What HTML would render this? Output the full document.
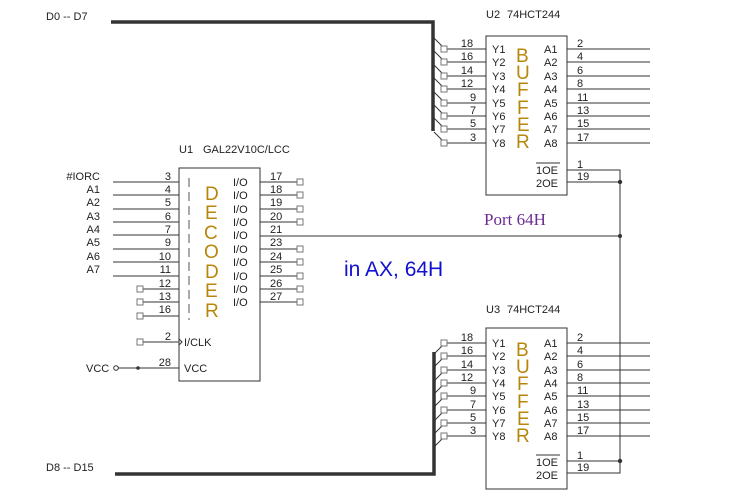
<!DOCTYPE html>
<html><head><meta charset="utf-8"><style>
html,body{margin:0;padding:0;background:#fff;}
svg{display:block;font-family:"Liberation Sans",sans-serif;}
.t{font-size:11px;fill:#222;}
.p{font-size:11px;fill:#222;}
.o{fill:#b8860b;font-size:19px;}
line,polyline,rect.b{stroke:#333;stroke-width:1;fill:none;}
.s{fill:#fff;stroke:#777;stroke-width:1;}
</style></head><body>
<svg width="732" height="498" viewBox="0 0 732 498">
<polyline points="111,22 433,22 433,131" style="stroke:#333;stroke-width:3.5;fill:none"/>
<polyline points="115,474 434,474 434,352" style="stroke:#333;stroke-width:3.5;fill:none"/>
<text x="46" y="20" class="t">D0 -- D7</text>
<text x="46" y="471" class="t">D8 -- D15</text>

<!-- U2 -->
<text x="486" y="18" class="t">U2</text><text x="507" y="18" class="t">74HCT244</text>
<rect class="b" x="486" y="36" width="81" height="159"/>
<g class="p">
<text x="492" y="53">Y1</text><text x="492" y="66">Y2</text><text x="492" y="80">Y3</text><text x="492" y="93">Y4</text><text x="492" y="107">Y5</text><text x="492" y="120">Y6</text><text x="492" y="133">Y7</text><text x="492" y="147">Y8</text>
<text x="544" y="53">A1</text><text x="544" y="66">A2</text><text x="544" y="80">A3</text><text x="544" y="93">A4</text><text x="544" y="107">A5</text><text x="544" y="120">A6</text><text x="544" y="133">A7</text><text x="544" y="147">A8</text>
<text x="536" y="174">1OE</text><text x="536" y="187">2OE</text>
<text x="467" y="47" text-anchor="middle">18</text><text x="467" y="60" text-anchor="middle">16</text><text x="467" y="74" text-anchor="middle">14</text><text x="467" y="87" text-anchor="middle">12</text><text x="470" y="101">9</text><text x="470" y="114">7</text><text x="470" y="127">5</text><text x="470" y="141">3</text>
<text x="577" y="47">2</text><text x="577" y="60">4</text><text x="577" y="74">6</text><text x="577" y="87">8</text><text x="577" y="101">11</text><text x="577" y="114">13</text><text x="577" y="127">15</text><text x="577" y="141">17</text>
<text x="577" y="168">1</text><text x="577" y="180">19</text>
</g>
<line x1="536" y1="163" x2="560" y2="163"/>
<g class="o"><text x="516" y="62">B</text><text x="516" y="79">U</text><text x="517" y="96">F</text><text x="517" y="114">F</text><text x="517" y="131">E</text><text x="516" y="148">R</text></g>
<g>
<line x1="447" y1="49" x2="486" y2="49"/><line x1="447" y1="62" x2="486" y2="62"/><line x1="447" y1="76" x2="486" y2="76"/><line x1="447" y1="89" x2="486" y2="89"/><line x1="447" y1="103" x2="486" y2="103"/><line x1="447" y1="116" x2="486" y2="116"/><line x1="447" y1="129" x2="486" y2="129"/><line x1="447" y1="143" x2="486" y2="143"/>
<line x1="434" y1="38" x2="445" y2="49"/><line x1="434" y1="51" x2="445" y2="62"/><line x1="434" y1="65" x2="445" y2="76"/><line x1="434" y1="78" x2="445" y2="89"/><line x1="434" y1="92" x2="445" y2="103"/><line x1="434" y1="105" x2="445" y2="116"/><line x1="434" y1="118" x2="445" y2="129"/><line x1="434" y1="132" x2="445" y2="143"/>
<rect class="s" x="441" y="46" width="6" height="6"/><rect class="s" x="441" y="59" width="6" height="6"/><rect class="s" x="441" y="73" width="6" height="6"/><rect class="s" x="441" y="86" width="6" height="6"/><rect class="s" x="441" y="100" width="6" height="6"/><rect class="s" x="441" y="113" width="6" height="6"/><rect class="s" x="441" y="126" width="6" height="6"/><rect class="s" x="441" y="140" width="6" height="6"/>
<line x1="567" y1="49" x2="650" y2="49"/><line x1="567" y1="62" x2="650" y2="62"/><line x1="567" y1="76" x2="650" y2="76"/><line x1="567" y1="89" x2="650" y2="89"/><line x1="567" y1="103" x2="650" y2="103"/><line x1="567" y1="116" x2="650" y2="116"/><line x1="567" y1="129" x2="650" y2="129"/><line x1="567" y1="143" x2="650" y2="143"/>
<polyline points="567,170 620,170 620,473 567,473"/>
<line x1="567" y1="182" x2="620" y2="182"/>
<line x1="567" y1="461" x2="620" y2="461"/>
<circle cx="620" cy="182" r="2.2" fill="#333"/><circle cx="620" cy="461" r="2.2" fill="#333"/><circle cx="620" cy="236" r="2" fill="#333"/>
</g>

<!-- U3 -->
<text x="486" y="313" class="t">U3</text><text x="507" y="313" class="t">74HCT244</text>
<rect class="b" x="486" y="328" width="81" height="161"/>
<g class="p">
<text x="492" y="347">Y1</text><text x="492" y="360">Y2</text><text x="492" y="374">Y3</text><text x="492" y="387">Y4</text><text x="492" y="400">Y5</text><text x="492" y="414">Y6</text><text x="492" y="427">Y7</text><text x="492" y="440">Y8</text>
<text x="544" y="347">A1</text><text x="544" y="360">A2</text><text x="544" y="374">A3</text><text x="544" y="387">A4</text><text x="544" y="400">A5</text><text x="544" y="414">A6</text><text x="544" y="427">A7</text><text x="544" y="440">A8</text>
<text x="536" y="466">1OE</text><text x="536" y="479">2OE</text>
<text x="467" y="341" text-anchor="middle">18</text><text x="467" y="354" text-anchor="middle">16</text><text x="467" y="368" text-anchor="middle">14</text><text x="467" y="381" text-anchor="middle">12</text><text x="470" y="394">9</text><text x="470" y="408">7</text><text x="470" y="421">5</text><text x="470" y="434">3</text>
<text x="577" y="341">2</text><text x="577" y="354">4</text><text x="577" y="368">6</text><text x="577" y="381">8</text><text x="577" y="394">11</text><text x="577" y="408">13</text><text x="577" y="421">15</text><text x="577" y="434">17</text>
<text x="577" y="459">1</text><text x="577" y="471">19</text>
</g>
<line x1="536" y1="455" x2="560" y2="455"/>
<g class="o"><text x="516" y="356">B</text><text x="516" y="373">U</text><text x="517" y="390">F</text><text x="517" y="408">F</text><text x="517" y="425">E</text><text x="516" y="442">R</text></g>
<g>
<line x1="447" y1="343" x2="486" y2="343"/><line x1="447" y1="356" x2="486" y2="356"/><line x1="447" y1="370" x2="486" y2="370"/><line x1="447" y1="383" x2="486" y2="383"/><line x1="447" y1="396" x2="486" y2="396"/><line x1="447" y1="410" x2="486" y2="410"/><line x1="447" y1="423" x2="486" y2="423"/><line x1="447" y1="436" x2="486" y2="436"/>
<line x1="434" y1="354" x2="445" y2="343"/><line x1="434" y1="367" x2="445" y2="356"/><line x1="434" y1="381" x2="445" y2="370"/><line x1="434" y1="394" x2="445" y2="383"/><line x1="434" y1="407" x2="445" y2="396"/><line x1="434" y1="421" x2="445" y2="410"/><line x1="434" y1="434" x2="445" y2="423"/><line x1="434" y1="447" x2="445" y2="436"/>
<rect class="s" x="441" y="340" width="6" height="6"/><rect class="s" x="441" y="353" width="6" height="6"/><rect class="s" x="441" y="367" width="6" height="6"/><rect class="s" x="441" y="380" width="6" height="6"/><rect class="s" x="441" y="393" width="6" height="6"/><rect class="s" x="441" y="407" width="6" height="6"/><rect class="s" x="441" y="420" width="6" height="6"/><rect class="s" x="441" y="433" width="6" height="6"/>
<line x1="567" y1="343" x2="650" y2="343"/><line x1="567" y1="356" x2="650" y2="356"/><line x1="567" y1="370" x2="650" y2="370"/><line x1="567" y1="383" x2="650" y2="383"/><line x1="567" y1="396" x2="650" y2="396"/><line x1="567" y1="410" x2="650" y2="410"/><line x1="567" y1="423" x2="650" y2="423"/><line x1="567" y1="436" x2="650" y2="436"/>
</g>

<!-- U1 -->
<text x="179" y="153" class="t">U1</text><text x="203" y="153" class="t">GAL22V10C/LCC</text>
<rect class="b" x="179" y="168" width="81" height="213"/>
<g class="o"><text x="205" y="200">D</text><text x="205" y="219">E</text><text x="204" y="239">C</text><text x="204" y="258">O</text><text x="205" y="278">D</text><text x="205" y="297">E</text><text x="205" y="317">R</text></g>
<line x1="189" y1="178" x2="189" y2="320" style="stroke:#555;stroke-dasharray:9,5"/>
<g class="p">
<text x="233" y="186">I/O</text><text x="233" y="199">I/O</text><text x="233" y="213">I/O</text><text x="233" y="226">I/O</text><text x="233" y="239">I/O</text><text x="233" y="253">I/O</text><text x="233" y="266">I/O</text><text x="233" y="280">I/O</text><text x="233" y="293">I/O</text><text x="233" y="306">I/O</text>
<text x="184" y="346">I/CLK</text><text x="184" y="372">VCC</text>
<text x="100" y="180" text-anchor="end">#IORC</text><text x="100" y="193" text-anchor="end">A1</text><text x="100" y="206" text-anchor="end">A2</text><text x="100" y="220" text-anchor="end">A3</text><text x="100" y="233" text-anchor="end">A4</text><text x="100" y="246" text-anchor="end">A5</text><text x="100" y="260" text-anchor="end">A6</text><text x="100" y="273" text-anchor="end">A7</text>
<text x="171" y="180" text-anchor="end">3</text><text x="171" y="193" text-anchor="end">4</text><text x="171" y="206" text-anchor="end">5</text><text x="171" y="220" text-anchor="end">6</text><text x="171" y="233" text-anchor="end">7</text><text x="171" y="246" text-anchor="end">9</text><text x="171" y="260" text-anchor="end">10</text><text x="171" y="273" text-anchor="end">11</text><text x="171" y="287" text-anchor="end">12</text><text x="171" y="300" text-anchor="end">13</text><text x="171" y="313" text-anchor="end">16</text><text x="171" y="340" text-anchor="end">2</text><text x="171" y="366" text-anchor="end">28</text>
<text x="270" y="180">17</text><text x="270" y="193">18</text><text x="270" y="206">19</text><text x="270" y="220">20</text><text x="270" y="233">21</text><text x="270" y="246">23</text><text x="270" y="260">24</text><text x="270" y="273">25</text><text x="270" y="287">26</text><text x="270" y="300">27</text>
<text x="86" y="372">VCC</text>
</g>
<g>
<line x1="113" y1="182" x2="179" y2="182"/><line x1="113" y1="195" x2="179" y2="195"/><line x1="113" y1="209" x2="179" y2="209"/><line x1="113" y1="222" x2="179" y2="222"/><line x1="113" y1="235" x2="179" y2="235"/><line x1="113" y1="249" x2="179" y2="249"/><line x1="113" y1="262" x2="179" y2="262"/><line x1="113" y1="276" x2="179" y2="276"/>
<line x1="141" y1="289" x2="179" y2="289"/><line x1="141" y1="302" x2="179" y2="302"/><line x1="141" y1="316" x2="179" y2="316"/><line x1="141" y1="342" x2="179" y2="342"/>
<rect class="s" x="137" y="286" width="6" height="6"/><rect class="s" x="137" y="299" width="6" height="6"/><rect class="s" x="137" y="313" width="6" height="6"/><rect class="s" x="137" y="339" width="6" height="6"/>
<polyline points="179,339 182,342 179,345" style="stroke:#333"/>
<line x1="118" y1="368" x2="179" y2="368"/><circle cx="116" cy="368" r="2.3" fill="#fff" stroke="#333"/><circle cx="138" cy="368" r="1.8" fill="#333"/>
<line x1="260" y1="182" x2="298" y2="182"/><line x1="260" y1="195" x2="298" y2="195"/><line x1="260" y1="209" x2="298" y2="209"/><line x1="260" y1="222" x2="298" y2="222"/><line x1="260" y1="236" x2="620" y2="236"/><line x1="260" y1="249" x2="298" y2="249"/><line x1="260" y1="262" x2="298" y2="262"/><line x1="260" y1="276" x2="298" y2="276"/><line x1="260" y1="289" x2="298" y2="289"/><line x1="260" y1="302" x2="298" y2="302"/>
<rect class="s" x="297" y="179" width="6" height="6"/><rect class="s" x="297" y="192" width="6" height="6"/><rect class="s" x="297" y="206" width="6" height="6"/><rect class="s" x="297" y="219" width="6" height="6"/><rect class="s" x="297" y="246" width="6" height="6"/><rect class="s" x="297" y="259" width="6" height="6"/><rect class="s" x="297" y="273" width="6" height="6"/><rect class="s" x="297" y="286" width="6" height="6"/><rect class="s" x="297" y="299" width="6" height="6"/>
</g>
<text x="484" y="225" style="font-family:'Liberation Serif',serif;font-size:17px;fill:#6a2c91">Port 64H</text>
<text x="344" y="276" style="font-size:21px;fill:#1010d0">in  AX, 64H</text>
</svg>
</body></html>
